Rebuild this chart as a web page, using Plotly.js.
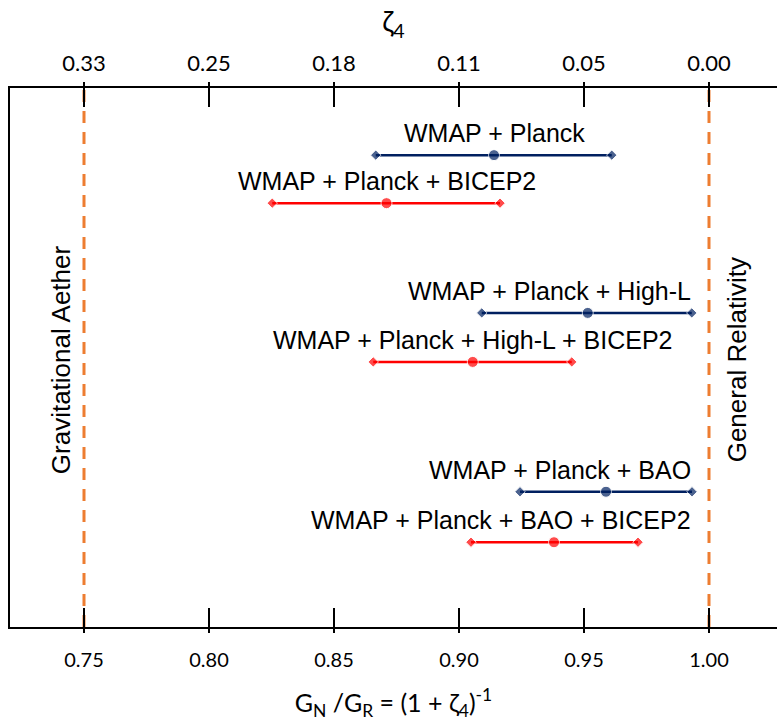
<!DOCTYPE html>
<html>
<head>
<meta charset="utf-8">
<script src="https://cdn.plot.ly/plotly-3.0.1.min.js"></script>
<style>html,body{margin:0;padding:0;background:#fff;}#chart{width:777px;height:724px;}</style>
</head>
<body>
<div id="chart"></div>
<script>
// ---- data ----
var datasets = ["WMAP + Planck", "WMAP + Planck + BICEP2", "WMAP + Planck + High-L",
                "WMAP + Planck + High-L + BICEP2", "WMAP + Planck + BAO", "WMAP + Planck + BAO + BICEP2"];
var centerVals = [0.914, 0.871, 0.9515, 0.9055, 0.9588, 0.938];
var lowerVals  = [0.8667, 0.8253, 0.9091, 0.8657, 0.9244, 0.9048];
var upperVals  = [0.9611, 0.9164, 0.9931, 0.9451, 0.9932, 0.9716];
var rowPos     = [9.63, 8.65, 6.41, 5.41, 2.76, 1.73];
var withBicep  = [false, true, false, true, false, true];
var bottomTicks = [0.75, 0.80, 0.85, 0.90, 0.95, 1.00];
var zetaTickLabels = ["0.33", "0.25", "0.18", "0.11", "0.05", "0.00"];
var refLines = [0.75, 1.00];
var refLabels = ["Gravitational Aether", "General Relativity"];

// ---- styling ----
var BLUE = "#002060", RED = "#FF0000", ORANGE = "#ED7D31";
var XR = [0.7204, 1.0272];
var labelAnchor = ["center", "center", "right", "center", "right", "right"];
var labelFont = {family: "Liberation Sans, Arial, sans-serif", size: 25, color: "#000"};
var axFont = "Lato, 'Open Sans', sans-serif";
var PLOT_H = 724 - 88 - 97;
var stub = 6 / PLOT_H;
function toPaperX(v) { return (v - XR[0]) / (XR[1] - XR[0]); }

var traces = datasets.map(function (name, i) {
  var c = withBicep[i] ? RED : BLUE;
  return {
    type: "scatter", mode: "lines+markers", name: name,
    x: [lowerVals[i], centerVals[i], upperVals[i]],
    y: [rowPos[i], rowPos[i], rowPos[i]],
    xaxis: "x", yaxis: "y",
    line: {color: c, width: 2.5},
    marker: {color: c, symbol: ["diamond", "circle", "diamond"], size: [8, 11, 8]},
    showlegend: false, hoverinfo: "x+name"
  };
});
// helper (invisible) trace so the top overlay axis gets drawn
traces.push({type: "scatter", mode: "markers", x: refLines, y: [null, null],
             xaxis: "x2", yaxis: "y", showlegend: false, hoverinfo: "skip",
             marker: {opacity: 0}});

var annotations = datasets.map(function (name, i) {
  var right = labelAnchor[i] === "right";
  return {
    text: name, xref: "x", yref: "y",
    x: right ? 0.9935 : centerVals[i], y: rowPos[i],
    xanchor: right ? "right" : "center", yanchor: "middle",
    yshift: 22, showarrow: false, font: labelFont
  };
});
annotations.push({
  text: refLabels[0], xref: "paper", yref: "paper", x: 0.0665, y: 0.495,
  textangle: -90, showarrow: false, xanchor: "center", yanchor: "middle",
  font: {family: "Liberation Sans, Arial, sans-serif", size: 26, color: "#000"}
});
annotations.push({
  text: refLabels[1], xref: "paper", yref: "paper", x: 0.948, y: 0.495,
  textangle: -90, showarrow: false, xanchor: "center", yanchor: "middle",
  font: {family: "Liberation Sans, Arial, sans-serif", size: 26, color: "#000"}
});

var shapes = refLines.map(function (v) {
  return {type: "line", xref: "x", yref: "paper", x0: v, x1: v, y0: 0, y1: 1,
          layer: "below", line: {color: ORANGE, width: 3, dash: "12px,9px"}};
});
// tick stubs poking outside the frame (ticks cross the axis lines)
bottomTicks.forEach(function (v) {
  var px = toPaperX(v);
  shapes.push({type: "line", xref: "paper", yref: "paper", x0: px, x1: px, y0: 0, y1: -stub,
               line: {color: "#000", width: 2}});
  shapes.push({type: "line", xref: "paper", yref: "paper", x0: px, x1: px, y0: 1, y1: 1 + stub,
               line: {color: "#000", width: 2}});
});

var baseAx = {range: XR, autorange: false, tickmode: "array", tickvals: bottomTicks, showgrid: false,
              zeroline: false, tickcolor: "#000", tickwidth: 2, fixedrange: true};

var layout = {
  width: 777, height: 724,
  margin: {l: 10, r: 0, t: 88, b: 97},
  paper_bgcolor: "#fff", plot_bgcolor: "#fff",
  xaxis: Object.assign({}, baseAx, {
    side: "bottom", anchor: "y",
    ticktext: bottomTicks.map(function (v) { return v.toFixed(2); }),
    ticks: "inside", ticklen: 19, ticklabelstandoff: 14,
    showline: true, linecolor: "#000", linewidth: 2,
    tickfont: {family: axFont, size: 20, color: "#000"},
    title: {text: "G<sub>N</sub> /G<sub>R</sub> = (1 + ζ<sub>4</sub>)<sup>-1</sup>",
            font: {family: axFont, size: 25, color: "#000"}, standoff: 24}
  }),
  xaxis2: Object.assign({}, baseAx, {
    side: "top", anchor: "y", overlaying: "x",
    ticktext: zetaTickLabels,
    ticks: "inside", ticklen: 19, ticklabelstandoff: 6,
    showline: true, linecolor: "#000", linewidth: 2,
    tickfont: {family: axFont, size: 22, color: "#000"},
    title: {text: "ζ<sub>4</sub>", font: {family: axFont, size: 28, color: "#000"}, standoff: 8}
  }),
  yaxis: {range: [0, 11], autorange: false, showline: true, linecolor: "#000", linewidth: 2,
          ticks: "", showticklabels: false, showgrid: false, zeroline: false, fixedrange: true},
  shapes: shapes,
  annotations: annotations
};

Plotly.newPlot("chart", traces, layout, {displayModeBar: false, staticPlot: true});
</script>
</body>
</html>
